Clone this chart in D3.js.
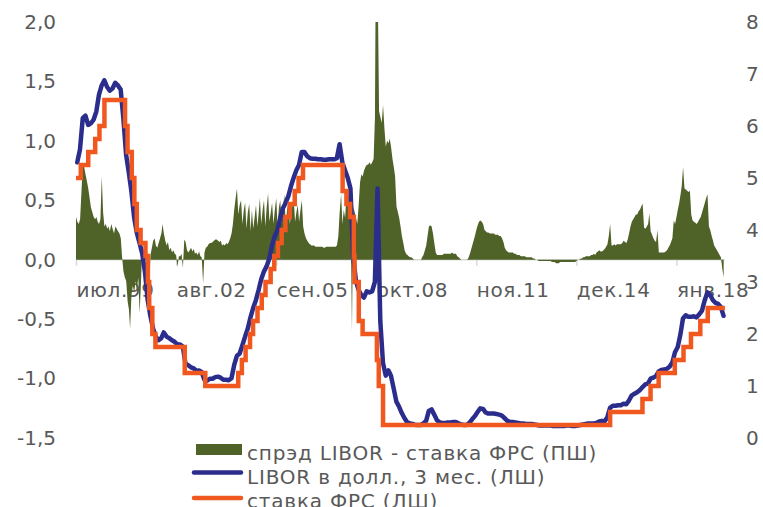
<!DOCTYPE html>
<html>
<head>
<meta charset="utf-8">
<script src="https://cdn.jsdelivr.net/npm/d3@7"></script>
<style>
  body { margin: 0; background: #ffffff; }
  svg { display: block; }
  text { font-family: "DejaVu Sans", Verdana, sans-serif; fill: #595959; }
</style>
</head>
<body>
<svg id="chart" width="763" height="507"></svg>
<script>
// ---- data -------------------------------------------------------------
// Spread LIBOR 3M minus Fed funds target, two readings per month (1st, 16th),
// from July 1999 to June 2019 (left scale).
const spreadStart = [1999, 6];
const spreadValues = [
  // 1999 H2
  0.36, 0.32, 0.30, 0.34, 0.58, 0.80, 0.78, 0.72, 0.66, 0.60, 0.52, 0.44,
  // 2000
  0.40, 0.36, 0.34, 0.36, 0.32, 0.30, 0.34, 0.70, 0.40, 0.28, 0.30, 0.26,
  0.28, 0.24, 0.30, 0.26, 0.22, 0.28, 0.26, 0.24, 0.22, 0.18, 0.02, -0.10,
  // 2001
  -0.15, -0.18, -0.35, -0.42, -0.58, -0.30, -0.22, -0.28, -0.18, -0.25, -0.15, -0.45,
  -0.20, 0.10, -0.05, 0.12, -0.08, 0.05, -0.30, 0.04, 0.10, 0.16, 0.18, 0.12,
  // 2002
  0.10, 0.14, 0.18, 0.22, 0.30, 0.22, 0.16, 0.12, 0.15, 0.08, 0.10, 0.06,
  0.08, 0.05, 0.04, -0.06, 0.03, 0.03, 0.05, -0.07, 0.17, 0.15, 0.08, 0.06,
  // 2003
  0.08, 0.10, 0.07, 0.09, 0.05, 0.06, 0.04, 0.07, 0.03, 0.02, -0.20, 0.06,
  0.10, 0.11, 0.13, 0.14, 0.14, 0.15, 0.16, 0.17, 0.17, 0.16, 0.15, 0.16,
  // 2004
  0.12, 0.13, 0.12, 0.14, 0.13, 0.15, 0.18, 0.22, 0.30, 0.42, 0.52, 0.60,
  0.38, 0.46, 0.50, 0.30, 0.42, 0.48, 0.26, 0.40, 0.47, 0.24, 0.42, 0.26,
  // 2005
  0.36, 0.46, 0.28, 0.40, 0.52, 0.30, 0.42, 0.50, 0.28, 0.44, 0.56, 0.32,
  0.40, 0.48, 0.30, 0.42, 0.52, 0.28, 0.44, 0.50, 0.30, 0.42, 0.55, 0.30,
  // 2006
  0.42, 0.48, 0.30, 0.40, 0.45, 0.52, 0.32, 0.40, 0.46, 0.32, 0.42, 0.50,
  0.28, 0.22, 0.18, 0.16, 0.14, 0.13, 0.12, 0.12, 0.12, 0.11, 0.11, 0.11,
  // 2007
  0.11, 0.11, 0.11, 0.10, 0.10, 0.11, 0.11, 0.11, 0.11, 0.11, 0.11, 0.11,
  0.11, 0.12, 0.20, 0.40, 0.55, 0.30, 0.42, 0.35, 0.55, 0.50, 0.60, 0.48,
  // 2008
  -0.60, 0.45, 0.40, 0.35, 0.30, 0.45, 0.65, 0.72, 0.70, 0.75, 0.78, 0.80,
  0.80, 0.82, 0.80, 0.82, 0.85, 1.20, 3.30, 2.40, 1.25, 1.20, 1.15, 1.30,
  // 2009
  1.10, 0.95, 1.00, 0.98, 1.02, 0.95, 0.85, 0.78, 0.70, 0.45, 0.40, 0.35,
  0.28, 0.20, 0.14, 0.08, 0.05, 0.04, 0.03, 0.02, 0.02, 0.01, 0.00, 0.00,
  // 2010
  0.00, 0.00, 0.00, 0.00, 0.02, 0.04, 0.08, 0.12, 0.20, 0.28, 0.29, 0.28,
  0.22, 0.14, 0.06, 0.04, 0.04, 0.04, 0.04, 0.04, 0.05, 0.05, 0.05, 0.05,
  // 2011
  0.05, 0.05, 0.06, 0.05, 0.05, 0.05, 0.03, 0.02, 0.01, 0.00, 0.00, 0.00,
  0.00, 0.00, 0.01, 0.04, 0.08, 0.12, 0.16, 0.20, 0.25, 0.29, 0.32, 0.33,
  // 2012
  0.32, 0.30, 0.25, 0.24, 0.23, 0.23, 0.22, 0.22, 0.22, 0.22, 0.21, 0.21,
  0.21, 0.20, 0.20, 0.18, 0.15, 0.10, 0.08, 0.07, 0.06, 0.06, 0.06, 0.06,
  // 2013
  0.05, 0.05, 0.04, 0.04, 0.04, 0.03, 0.03, 0.03, 0.03, 0.02, 0.02, 0.02,
  0.02, 0.02, 0.01, 0.01, 0.00, 0.00, -0.01, -0.01, -0.01, -0.01, -0.01, -0.01,
  // 2014
  -0.01, -0.01, -0.01, -0.01, -0.02, -0.02, -0.02, -0.03, -0.03, -0.03, -0.02, -0.02,
  -0.02, -0.02, -0.02, -0.02, -0.02, -0.02, -0.02, -0.02, -0.02, -0.02, -0.01, 0.00,
  // 2015
  0.00, 0.01, 0.01, 0.02, 0.02, 0.03, 0.03, 0.03, 0.03, 0.04, 0.04, 0.05,
  0.04, 0.06, 0.07, 0.08, 0.07, 0.07, 0.08, 0.09, 0.11, 0.13, 0.20, 0.30,
  // 2016
  0.12, 0.12, 0.13, 0.12, 0.13, 0.13, 0.13, 0.13, 0.14, 0.16, 0.15, 0.14,
  0.17, 0.22, 0.28, 0.32, 0.34, 0.36, 0.38, 0.38, 0.41, 0.42, 0.45, 0.47,
  // 2017
  0.27, 0.26, 0.28, 0.30, 0.39, 0.24, 0.21, 0.18, 0.16, 0.15, 0.25, 0.06,
  0.06, 0.06, 0.06, 0.06, 0.07, 0.08, 0.10, 0.12, 0.15, 0.18, 0.33, 0.30,
  // 2018
  0.36, 0.42, 0.48, 0.55, 0.62, 0.78, 0.60, 0.59, 0.58, 0.57, 0.58, 0.38,
  0.33, 0.32, 0.31, 0.30, 0.32, 0.34, 0.36, 0.40, 0.44, 0.48, 0.52, 0.55,
  // 2019 H1
  0.28, 0.25, 0.20, 0.16, 0.12, 0.10, 0.08, 0.06, 0.04, 0.02, -0.08, -0.15
];

// USD LIBOR 3M, monthly (mid-month), July 1999 - June 2019 (right scale)
const liborStart = [1999, 6];
const liborValues = [
  5.30, 5.55, 6.15, 6.20, 6.02, 6.05,
  6.12, 6.28, 6.60, 6.78, 6.88, 6.75, 6.68, 6.72, 6.83, 6.78, 6.70, 6.15,
  5.45, 5.10, 4.75, 4.25, 3.95, 3.75, 3.55, 3.20, 2.65, 2.35, 2.10, 1.95,
  1.88, 1.92, 2.03, 1.95, 1.92, 1.88, 1.85, 1.80, 1.80, 1.76, 1.42, 1.40,
  1.36, 1.34, 1.29, 1.30, 1.27, 1.12, 1.10, 1.14, 1.14, 1.17, 1.18, 1.16,
  1.12, 1.12, 1.11, 1.15, 1.40, 1.58, 1.62, 1.78, 1.95, 2.10, 2.32, 2.50,
  2.65, 2.85, 3.05, 3.20, 3.30, 3.45, 3.70, 3.88, 4.00, 4.22, 4.42, 4.52,
  4.65, 4.85, 5.00, 5.15, 5.25, 5.50, 5.50, 5.42, 5.38, 5.37, 5.37, 5.36,
  5.36, 5.35, 5.35, 5.36, 5.36, 5.36, 5.38, 5.65, 5.30, 5.15, 5.00, 4.80,
  3.50, 3.02, 2.85, 2.75, 2.70, 2.82, 2.80, 2.82, 3.00, 4.80, 2.25, 1.45,
  1.20, 1.30, 1.20, 0.95, 0.70, 0.60, 0.48, 0.38, 0.30, 0.28, 0.27, 0.25,
  0.25, 0.25, 0.28, 0.33, 0.52, 0.55, 0.45, 0.34, 0.30, 0.29, 0.29, 0.30,
  0.30, 0.31, 0.31, 0.28, 0.26, 0.25, 0.25, 0.29, 0.36, 0.42, 0.50, 0.57,
  0.56, 0.49, 0.47, 0.47, 0.47, 0.46, 0.45, 0.43, 0.38, 0.33, 0.31, 0.31,
  0.30, 0.29, 0.28, 0.28, 0.27, 0.27, 0.27, 0.26, 0.25, 0.24, 0.24, 0.24,
  0.24, 0.24, 0.23, 0.23, 0.23, 0.23, 0.23, 0.24, 0.24, 0.23, 0.23, 0.24,
  0.25, 0.26, 0.27, 0.28, 0.28, 0.28, 0.29, 0.32, 0.33, 0.32, 0.40, 0.58,
  0.62, 0.62, 0.63, 0.63, 0.66, 0.65, 0.72, 0.82, 0.85, 0.88, 0.92, 0.98,
  1.03, 1.05, 1.14, 1.16, 1.19, 1.28, 1.31, 1.32, 1.33, 1.37, 1.45, 1.65,
  1.75, 2.00, 2.30, 2.36, 2.33, 2.33, 2.34, 2.32, 2.38, 2.45, 2.65, 2.80,
  2.75, 2.65, 2.60, 2.58, 2.52, 2.35
];

// Fed funds target (upper bound): date of each change and the new level
const ffrDates = [
  "1999-07-01","1999-08-24","1999-11-16","2000-02-02","2000-03-21","2000-05-16",
  "2001-01-03","2001-01-31","2001-03-20","2001-04-18","2001-05-15","2001-06-27",
  "2001-08-21","2001-09-17","2001-10-02","2001-11-06","2001-12-11","2002-11-06",
  "2003-06-25","2004-06-30","2004-08-10","2004-09-21","2004-11-10","2004-12-14",
  "2005-02-02","2005-03-22","2005-05-03","2005-06-30","2005-08-09","2005-09-20",
  "2005-11-01","2005-12-13","2006-01-31","2006-03-28","2006-05-10","2006-06-29",
  "2007-09-18","2007-10-31","2007-12-11","2008-01-22","2008-01-30","2008-03-18",
  "2008-04-30","2008-10-08","2008-10-29","2008-12-16","2015-12-16","2016-12-14",
  "2017-03-15","2017-06-14","2017-12-13","2018-03-21","2018-06-13","2018-09-26",
  "2018-12-19","2019-06-30"
];
const ffrValues = [
  5.00, 5.25, 5.50, 5.75, 6.00, 6.50,
  6.00, 5.50, 5.00, 4.50, 4.00, 3.75,
  3.50, 3.00, 2.50, 2.00, 1.75, 1.25,
  1.00, 1.25, 1.50, 1.75, 2.00, 2.25,
  2.50, 2.75, 3.00, 3.25, 3.50, 3.75,
  4.00, 4.25, 4.50, 4.75, 5.00, 5.25,
  4.75, 4.50, 4.25, 3.50, 3.00, 2.25,
  2.00, 1.50, 1.00, 0.25, 0.50, 0.75,
  1.00, 1.25, 1.50, 1.75, 2.00, 2.25,
  2.50, 2.50
];

const leftTicks = [-1.5, -1.0, -0.5, 0, 0.5, 1.0, 1.5, 2.0];
const rightTicks = [0, 1, 2, 3, 4, 5, 6, 7, 8];
const xTickDates = ["1999-07-01","2002-08-01","2005-09-01","2008-10-01","2011-11-01","2014-12-01","2018-01-01"];
const xTickLabels = ["июл.99","авг.02","сен.05","окт.08","ноя.11","дек.14","янв.18"];

const legendLabels = [
  "спрэд LIBOR - ставка ФРС (ПШ)",
  "LIBOR в долл., 3 мес. (ЛШ)",
  "ставка ФРС (ЛШ)"
];

// ---- setup ------------------------------------------------------------
const COLORS = { spread: "#4F6228", libor: "#2B2D8C", ffr: "#F0581F", axis: "#D9D9D9" };
const parse = d3.timeParse("%Y-%m-%d");

const svg = d3.select("#chart");
const x = d3.scaleTime()
  .domain([new Date(1999, 6, 1), new Date(2019, 6, 1)])
  .range([76, 725]);
const yL = d3.scaleLinear().domain([-1.5, 2]).range([438, 22]);
const yR = d3.scaleLinear().domain([0, 8]).range([438, 22]);

const spread = spreadValues.map((v, i) => ({
  date: new Date(spreadStart[0], spreadStart[1] + Math.floor(i / 2), i % 2 ? 16 : 1),
  v
}));
const libor = liborValues.map((v, i) => ({
  date: new Date(liborStart[0], liborStart[1] + i, 15),
  v
}));
const ffr = ffrDates.map((d, i) => ({ date: parse(d), v: ffrValues[i] }));

svg.append("defs").append("clipPath").attr("id", "plot")
  .append("rect").attr("x", 60).attr("y", 22).attr("width", 680).attr("height", 416);

// ---- axes -------------------------------------------------------------
const fmtLeft = v => (v < 0 ? "-" : "") + Math.abs(v).toFixed(1).replace(".", ",");

const gL = svg.append("g").attr("transform", "translate(56,0)")
  .call(d3.axisLeft(yL).tickValues(leftTicks).tickSize(0).tickPadding(0).tickFormat(fmtLeft));
gL.select(".domain").remove();

const gR = svg.append("g").attr("transform", "translate(746,0)")
  .call(d3.axisRight(yR).tickValues(rightTicks).tickSize(0).tickPadding(0));
gR.select(".domain").remove();

[gL, gR].forEach(g => g.selectAll("text")
  .attr("font-size", 20).attr("font-family", null).style("fill", "#595959"));

const gX = svg.append("g").attr("transform", `translate(0,${yL(0)})`)
  .call(d3.axisBottom(x)
    .tickValues(xTickDates.map(parse))
    .tickSize(6).tickSizeOuter(0)
    .tickFormat((d, i) => xTickLabels[i]));
gX.select(".domain").attr("stroke", COLORS.axis).attr("stroke-width", 1.5)
  .attr("d", `M${x.range()[0]},0H${x(libor[libor.length - 1].date) + 1}`);
gX.selectAll(".tick line").attr("stroke", COLORS.axis).attr("stroke-width", 1.5);
gX.selectAll(".tick text")
  .attr("text-anchor", "start").attr("x", 0).attr("y", 37).attr("dy", 0)
  .attr("font-size", 20).attr("font-family", null).attr("letter-spacing", 0.6)
  .style("fill", "#595959");

// ---- marks ------------------------------------------------------------
const plot = svg.append("g").attr("clip-path", "url(#plot)");

plot.append("path").datum(spread)
  .attr("fill", COLORS.spread)
  .attr("d", d3.area().x(d => x(d.date)).y0(yL(0)).y1(d => yL(d.v)));

plot.append("path").datum(libor)
  .attr("fill", "none").attr("stroke", COLORS.libor).attr("stroke-width", 4.5)
  .attr("stroke-linejoin", "round").attr("stroke-linecap", "round")
  .attr("d", d3.line().x(d => x(d.date)).y(d => yR(d.v)));

plot.append("path").datum(ffr)
  .attr("fill", "none").attr("stroke", COLORS.ffr).attr("stroke-width", 4.5)
  .attr("stroke-linejoin", "miter")
  .attr("d", d3.line().curve(d3.curveStepAfter).x(d => x(d.date)).y(d => yR(d.v)));

// ---- legend -----------------------------------------------------------
const legend = svg.append("g");
legend.append("rect").attr("x", 196).attr("y", 444).attr("width", 46).attr("height", 11)
  .attr("fill", COLORS.spread);
legend.append("line").attr("x1", 194).attr("x2", 241).attr("y1", 472.5).attr("y2", 472.5)
  .attr("stroke", COLORS.libor).attr("stroke-width", 4.5).attr("stroke-linecap", "round");
legend.append("line").attr("x1", 194).attr("x2", 241).attr("y1", 498).attr("y2", 498)
  .attr("stroke", COLORS.ffr).attr("stroke-width", 4.5).attr("stroke-linecap", "round");
legend.selectAll("text.lg").data(legendLabels).join("text")
  .attr("class", "lg")
  .attr("x", 247).attr("y", (d, i) => 459.5 + i * 24)
  .attr("font-size", 20).attr("letter-spacing", 0.8)
  .text(d => d);
</script>
</body>
</html>
